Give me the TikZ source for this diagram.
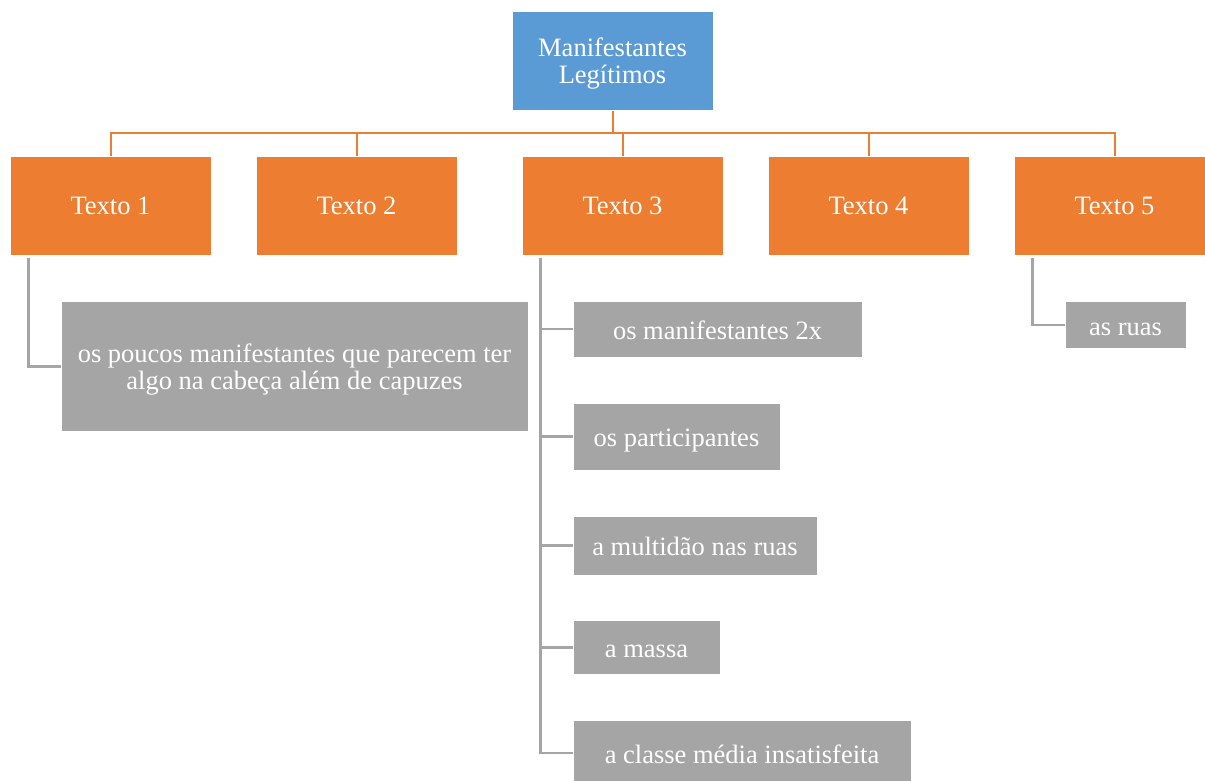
\documentclass[tikz,border=0pt]{standalone}
\usepackage{fontspec}
\setmainfont{Liberation Serif}
\definecolor{rootblue}{HTML}{5B9BD5}
\definecolor{orangec}{HTML}{ED7D31}
\definecolor{grayc}{HTML}{A5A5A5}
\newcommand{\twolines}[3]{\raisebox{#1}[\height][\depth]{\begin{tabular}{@{}c@{}}#2\\#3\end{tabular}}}
\tikzset{
  basebox/.style={rectangle, draw=white, line width=1pt, text=white, align=center, inner sep=0pt,
    font=\fontsize{26.5}{27.5}\selectfont},
  rootbox/.style={basebox, fill=rootblue, minimum width=201pt, minimum height=99pt},
  textbox/.style={basebox, fill=orangec, minimum width=201pt, minimum height=98pt},
  leafbox/.style={basebox, fill=grayc},
  oneline/.style={text height=22pt, text depth=2pt},
  oline/.style={draw=orangec, line width=2pt},
  gline/.style={draw=grayc, line width=2.5pt},
}
\begin{document}
\begin{tikzpicture}[x=1pt,y=-1pt]
\useasboundingbox (0,0) rectangle (1205,781);
\fill[white] (0,0) rectangle (1205,781);

\node[rootbox] (root) at (612.5,61.5) {\twolines{-3pt}{Manifestantes}{Legítimos}};

\node[textbox] (t1) at (110.5,206) {Texto 1};
\node[textbox] (t2) at (356.5,206) {Texto 2};
\node[textbox] (t3) at (622.5,206) {Texto 3};
\node[textbox] (t4) at (868.5,206) {Texto 4};
\node[textbox] (t5) at (1114.5,206) {Texto 5};

\node[leafbox, minimum width=467pt, minimum height=130pt] (g1) at (294.5,366.5)
  {\twolines{-4pt}{os poucos manifestantes que parecem ter}{algo na cabeça além de capuzes}};

\node[leafbox, oneline, minimum width=289pt, minimum height=56pt] (c1) at (717.5,329) {os manifestantes 2x};
\node[leafbox, oneline, minimum width=207pt, minimum height=67pt] (c2) at (676.5,436.5) {os participantes};
\node[leafbox, oneline, minimum width=244pt, minimum height=59pt] (c3) at (695,545.5) {a multidão nas ruas};
\node[leafbox, oneline, minimum width=147pt, minimum height=54pt] (c4) at (646.5,647.5) {a massa};
\node[leafbox, oneline, minimum width=338pt, minimum height=66pt] (c5) at (742,753) {a classe média insatisfeita};

\node[leafbox, oneline, minimum width=121pt, minimum height=47pt] (r1) at (1125.5,325) {as ruas};

% orange connectors
\foreach \t in {t1,t2,t3,t4,t5}{
  \draw[oline] (root.south) -- ++(0,22) -| (\t.north);
}

% gray connectors
\draw[gline] ([xshift=19pt,yshift=-2pt]t1.south west) |- (g1.west);
\foreach \c in {c1,c2,c3,c4,c5}{
  \draw[gline] ([xshift=19pt,yshift=-2pt]t3.south west) |- (\c.west);
}
\draw[gline] ([xshift=19pt,yshift=-2pt]t5.south west) |- (r1.west);
\end{tikzpicture}
\end{document}
